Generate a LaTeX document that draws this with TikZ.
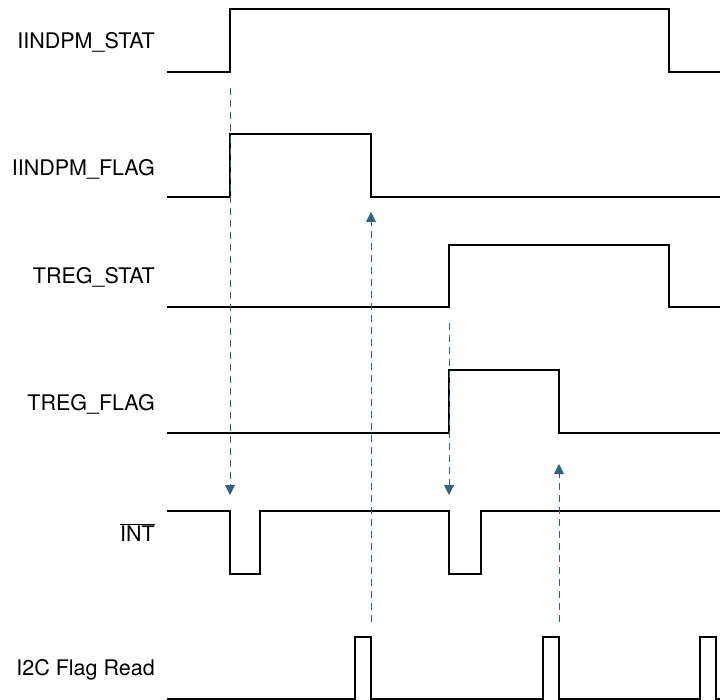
\documentclass[tikz,border=0pt]{standalone}
\usepackage{fontspec}
\setmainfont{TeX Gyre Heros}
\usetikzlibrary{arrows.meta}
\definecolor{arrowblue}{RGB}{48,98,126}
\tikzset{
  wave/.style={line width=1.7pt, black, line join=miter},
  lbl/.style={anchor=base east, inner sep=0pt, font=\fontsize{21.5}{25}\selectfont},
  trig/.style={line width=0.9pt, arrowblue, dash pattern=on 7pt off 5pt, -{Triangle[width=10pt,length=10pt]}}
}
\begin{document}
\begin{tikzpicture}[x=1pt,y=-1pt]
\useasboundingbox (0,0) rectangle (720,700);
% labels
\node[lbl] (l1) at (155,49) {IINDPM\_STAT};
\node[lbl] (l2) at (155,176) {IINDPM\_FLAG};
\node[lbl] (l3) at (155,284) {TREG\_STAT};
\node[lbl] (l4) at (155,410) {TREG\_FLAG};
\node[lbl] (l5) at (155,541) {$\overline{\mbox{INT}}$};
\node[lbl] (l6) at (155,675) {I2C Flag Read};
% waveforms
\draw[wave] (167,72) -- (230,72) -- (230,9) -- (669,9) -- (669,72) -- (720,72);
\draw[wave] (167,197) -- (230,197) -- (230,134) -- (371,134) -- (371,197) -- (720,197);
\draw[wave] (167,307) -- (449,307) -- (449,245) -- (669,245) -- (669,307) -- (720,307);
\draw[wave] (167,433) -- (449,433) -- (449,370) -- (559,370) -- (559,433) -- (720,433);
\draw[wave] (167,511) -- (230,511) -- (230,574) -- (260,574) -- (260,511) -- (449,511) -- (449,574) -- (481,574) -- (481,511) -- (720,511);
\draw[wave] (167,699) -- (355,699) -- (355,637) -- (371,637) -- (371,699) -- (543,699) -- (543,637) -- (559,637) -- (559,699) -- (700,699) -- (700,637) -- (716,637) -- (716,699) -- (720,699);
% trigger arrows
\coordinate (a1s) at (230,88);  \coordinate (a1e) at (230,495);
\coordinate (a2s) at (449,323); \coordinate (a2e) at (449,495);
\coordinate (a3s) at (371,622); \coordinate (a3e) at (371,212);
\coordinate (a4s) at (559,622); \coordinate (a4e) at (559,464);
\draw[trig] (a1s) -- (a1e);
\draw[trig] (a2s) -- (a2e);
\draw[trig] (a3s) -- (a3e);
\draw[trig] (a4s) -- (a4e);
\end{tikzpicture}
\end{document}
